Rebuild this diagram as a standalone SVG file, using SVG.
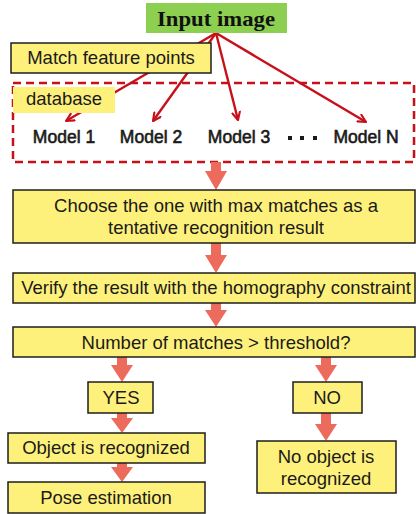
<svg xmlns="http://www.w3.org/2000/svg" width="416" height="514" viewBox="0 0 416 514">
<defs>
<style>
.box{fill:#fef17b;stroke:#1e1e1e;stroke-width:1.5}
.t{font-family:"Liberation Sans",Arial,sans-serif;font-size:18.5px;fill:#1a1a1a;text-anchor:middle}
.m{font-family:"Liberation Sans",Arial,sans-serif;font-size:17.5px;fill:#1a1a1a;text-anchor:middle;stroke:#1a1a1a;stroke-width:0.6}
.ln{stroke:#c8101a;stroke-width:2.4;fill:none;marker-end:url(#ah)}
.blk{fill:#ec6b5d}
</style>
<marker id="ah" viewBox="0 0 10 10" refX="9" refY="5" markerWidth="4" markerHeight="4" orient="auto" markerUnits="strokeWidth">
<path d="M1,1 L9,5 L1,9" fill="none" stroke="#c8101a" stroke-width="2.2" stroke-linecap="round" stroke-linejoin="round"/>
</marker>
</defs>
<g id="connectors">
<line class="ln" x1="216" y1="33" x2="66" y2="121"/>
<line class="ln" x1="216" y1="33" x2="153" y2="121"/>
<line class="ln" x1="216" y1="33" x2="238" y2="120"/>
<line class="ln" x1="216" y1="33" x2="366" y2="122"/>
</g>
<g id="input"><rect x="146" y="3" width="141" height="30" fill="#8dcf50"/>
<text x="216" y="26" font-family="'Liberation Serif','Times New Roman',serif" font-weight="bold" font-size="21" text-anchor="middle" fill="#111" textLength="118" lengthAdjust="spacingAndGlyphs">Input image</text></g>
<g id="match"><rect class="box" x="11" y="43" width="200" height="30" stroke="#111" stroke-width="2.5"/>
<text class="t" x="111" y="64">Match feature points</text></g>
<g id="database-frame"><rect x="13" y="83" width="401" height="79" fill="none" stroke="#c8101a" stroke-width="2.5" stroke-dasharray="8,5"/></g>
<g id="database"><rect x="13" y="87" width="102" height="26" fill="#fef17b"/>
<text class="t" x="64" y="105">database</text></g>
<g id="models">
<text class="m" x="64" y="143">Model 1</text>
<text class="m" x="151" y="143">Model 2</text>
<text class="m" x="239" y="143">Model 3</text>
<rect x="288" y="136" width="4" height="4" fill="#1a1a1a"/>
<rect x="300" y="136" width="4" height="4" fill="#1a1a1a"/>
<rect x="313" y="136" width="4" height="4" fill="#1a1a1a"/>
<text class="m" x="366" y="143">Model N</text>
</g>
<g id="block-arrows" class="blk">
<path d="M211,162 L221,162 L221,171 L227,171 L216,190 L205,171 L211,171 Z"/>
<path d="M211,243 L221,243 L221,255 L227,255 L216,273 L205,255 L211,255 Z"/>
<path d="M211,303 L221,303 L221,310 L227,310 L216,327 L205,310 L211,310 Z"/>
<path d="M117,357 L127,357 L127,365 L133,365 L122,382 L111,365 L117,365 Z"/>
<path d="M321,357 L331,357 L331,365 L337,365 L326,382 L315,365 L321,365 Z"/>
<path d="M117,413 L127,413 L127,418 L133,418 L122,433 L111,418 L117,418 Z"/>
<path d="M321,413 L331,413 L331,424 L337,424 L326,441 L315,424 L321,424 Z"/>
<path d="M117,463 L127,463 L127,467 L133,467 L122,482 L111,467 L117,467 Z"/>
</g>
<g id="choose"><rect class="box" x="13" y="190" width="402" height="53"/>
<text class="t" x="216" y="212">Choose the one with max matches as a</text>
<text class="t" x="216" y="234">tentative recognition result</text></g>
<g id="verify"><rect class="box" x="13" y="273" width="402" height="30"/>
<text class="t" x="216" y="294">Verify the result with the homography constraint</text></g>
<g id="threshold"><rect class="box" x="13" y="327" width="402" height="30"/>
<text class="t" x="216" y="349">Number of matches &gt; threshold?</text></g>
<g id="yes"><rect class="box" x="88" y="382" width="65" height="31"/>
<text class="t" x="121" y="404">YES</text></g>
<g id="no"><rect class="box" x="293" y="382" width="69" height="31"/>
<text class="t" x="327" y="404">NO</text></g>
<g id="recognized"><rect class="box" x="8" y="433" width="197" height="30"/>
<text class="t" x="106" y="454">Object is recognized</text></g>
<g id="pose"><rect class="box" x="8" y="482" width="197" height="31"/>
<text class="t" x="106" y="504">Pose estimation</text></g>
<g id="not-recognized"><rect class="box" x="257" y="441" width="139" height="52"/>
<text class="t" x="326" y="463">No object is</text>
<text class="t" x="326" y="485">recognized</text></g>
</svg>
